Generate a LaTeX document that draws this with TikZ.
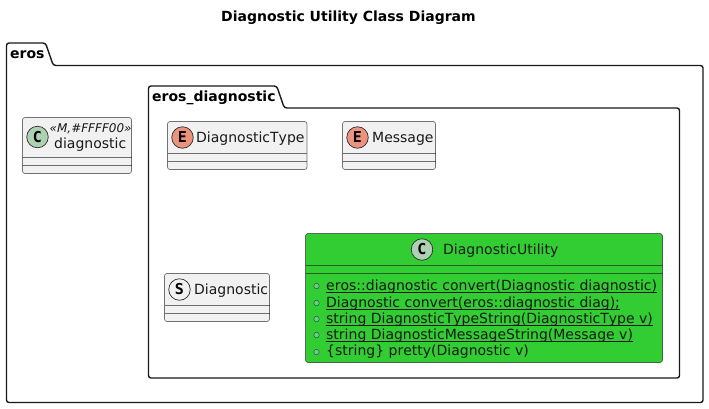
\documentclass[tikz,border=0pt]{standalone}
\usepackage{fontspec}
\setmainfont[Kerning=Off]{DejaVu Sans}
\newfontfamily\spotfont{DejaVu Sans Mono}
\usetikzlibrary{calc}
\definecolor{boxfill}{HTML}{F1F1F1}
\definecolor{boxline}{HTML}{181818}
\definecolor{classspot}{HTML}{ADD1B2}
\definecolor{enumspot}{HTML}{EB937F}
\definecolor{utilfill}{HTML}{32CD32}
\definecolor{dotfill}{HTML}{84BE84}
\definecolor{dotline}{HTML}{038048}
\newcommand{\ultext}[1]{\setbox0=\hbox{#1}\rlap{\vrule width \wd0 height -1.6pt depth 2.6pt}\box0}
\tikzset{
  pkg/.style={line width=1.4pt, black!90, rounded corners=2.5pt},
  pkgname/.style={anchor=base west, inner sep=0pt, font=\fontsize{14}{14}\selectfont\bfseries},
  classbox/.style={draw=boxline, draw opacity=0.6, line width=0.7pt, fill=boxfill, rounded corners=2.5pt},
  divider/.style={draw=boxline, draw opacity=0.6, line width=0.7pt},
  spot/.style={circle, draw=boxline!90, line width=0.7pt, minimum size=21.5pt, inner sep=0pt, font=\spotfont\fontsize{15}{15}\selectfont\bfseries},
  classname/.style={anchor=base west, inner sep=0pt, text=black!90, font=\fontsize{14}{14}\selectfont},
  member/.style={anchor=base west, inner sep=0pt, text=black!90, font=\fontsize{14}{14}\selectfont},
  memberdot/.style={circle, draw=dotline, line width=0.6pt, fill=dotfill, minimum size=5.5pt, inner sep=0pt}
}
\begin{document}
\begin{tikzpicture}[x=1pt, y=-1pt]
\useasboundingbox (0,0) rectangle (709,408);
\node (title) at (348.5,18) [inner sep=0pt, font=\fontsize{14}{14}\selectfont\bfseries]{Diagnostic Utility Class Diagram};
\draw[pkg] (6.5,65.5) -- (6.5,43) -- (45.5,43) -- (53.3,65.5) -- (703,65.5) -- (703,402.5) -- (6.5,402.5) -- cycle;
\node (erosname) at (10,58) [pkgname]{eros};
\draw[pkg] (148.5,108) -- (148.5,86) -- (276.7,86) -- (284.3,108) -- (679.5,108) -- (679.5,378) -- (148.5,378) -- cycle;
\node (diagname) at (152,101) [pkgname]{eros\_diagnostic};
\draw[classbox] (22.5,117.5) rectangle (131.5,173.5);
\draw[divider] (22.5,157.5) -- (131.5,157.5);
\draw[divider] (22.5,165.5) -- (131.5,165.5);
\node (diagspot) at (37.5,137) [spot, fill=classspot]{C};
\node (diagstereo) at (49.5,132) [classname, font=\fontsize{12}{12}\selectfont\itshape]{«M,\#FFFF00»};
\node (diagclass) at (54,148.5) [classname]{diagnostic};
\draw[classbox] (167.5,121.5) rectangle (307,169.5);
\draw[divider] (167.5,153.5) -- (307,153.5);
\draw[divider] (167.5,161.5) -- (307,161.5);
\node (typespot) at (182.5,137.5) [spot, fill=enumspot]{E};
\node (typeclass) at (196,142.5) [classname]{DiagnosticType};
\draw[classbox] (342.5,121.5) rectangle (435.5,169.5);
\draw[divider] (342.5,153.5) -- (435.5,153.5);
\draw[divider] (342.5,161.5) -- (435.5,161.5);
\node (msgspot) at (357.5,137.5) [spot, fill=enumspot]{E};
\node (msgclass) at (372,142.5) [classname]{Message};
\draw[classbox] (164.5,273.5) rectangle (269.5,321.5);
\draw[divider] (164.5,305.5) -- (269.5,305.5);
\draw[divider] (164.5,313.5) -- (269.5,313.5);
\node (structspot) at (179.5,289.5) [spot, fill=boxfill]{S};
\node (structclass) at (194,294.5) [classname]{Diagnostic};
\draw[classbox, fill=utilfill] (305.5,233.5) rectangle (662.5,362.5);
\draw[divider] (305.5,265.5) -- (662.5,265.5);
\draw[divider] (305.5,273.5) -- (662.5,273.5);
\node (utilspot) at (422,249.5) [spot, fill=classspot]{C};
\node (utilclass) at (443,254.5) [classname]{DiagnosticUtility};
\node (dot1) at (316.5,286) [memberdot]{};
\node (dot2) at (316.5,303) [memberdot]{};
\node (dot3) at (316.5,319) [memberdot]{};
\node (dot4) at (316.5,335) [memberdot]{};
\node (dot5) at (316.5,352) [memberdot]{};
\node (m1) at (326,290.5) [member]{\ultext{eros::diagnostic convert(Diagnostic diagnostic)}};
\node (m2) at (326,307) [member]{\ultext{Diagnostic convert(eros::diagnostic diag);}};
\node (m3) at (326,323) [member]{\ultext{string DiagnosticTypeString(DiagnosticType v)}};
\node (m4) at (326,339) [member]{\ultext{string DiagnosticMessageString(Message v)}};
\node (m5) at (326,355.5) [member]{\{string\} pretty(Diagnostic v)};
\end{tikzpicture}
\end{document}
